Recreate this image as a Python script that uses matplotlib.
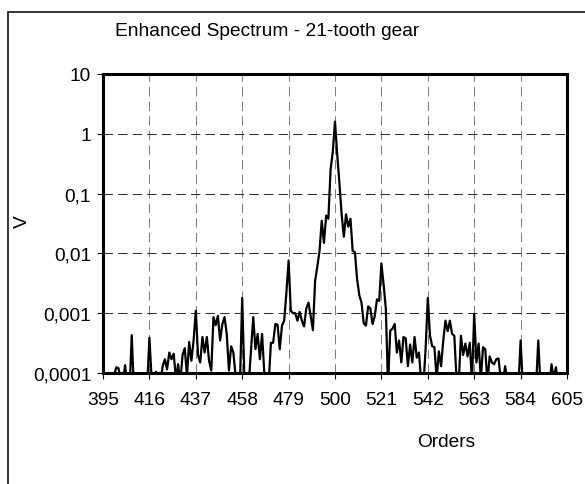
import matplotlib
matplotlib.use('Agg')
import matplotlib.pyplot as plt
from matplotlib.patches import Rectangle
from matplotlib.ticker import NullLocator

plt.rcParams['font.family'] = ['Liberation Sans', 'DejaVu Sans']

# enhanced spectrum amplitude, one value per order from 395 to 605
orders = list(range(395, 606))
amplitude = [
    7e-5, 6e-5, 5e-5, 6e-5, 7e-5, 9e-5, 1.25e-4, 1.2e-4, 8e-5, 7e-5,            # 395-404
    1.35e-4, 6e-5, 5e-5, 4.3e-4, 5e-5, 6e-5, 5e-5, 7e-5, 6e-5, 5e-5,            # 405-414
    6e-5, 3.9e-4, 8e-5, 9e-5, 1.05e-4, 6e-5, 7e-5, 1.3e-4, 1.7e-4, 1.15e-4,     # 415-424
    2.2e-4, 1.7e-4, 2.1e-4, 8e-5, 1.4e-4, 7e-5, 2.0e-4, 2.6e-4, 9e-5, 3.3e-4,   # 425-434
    1.6e-4, 3.5e-4, 1.1e-3, 2.0e-4, 1.5e-4, 4.0e-4, 2.2e-4, 4.0e-4, 1.6e-4, 1.1e-4,  # 435-444
    8.6e-4, 6.3e-4, 9.0e-4, 3.5e-4, 6.5e-4, 8.6e-4, 4.5e-4, 1.1e-4, 2.8e-4, 2.2e-4,  # 445-454
    9e-5, 8e-5, 7e-5, 1.8e-3, 8e-5, 6e-5, 7e-5, 2.5e-4, 8.6e-4, 2.5e-4,         # 455-464
    4.5e-4, 1.7e-4, 4.5e-4, 1e-4, 6e-5, 7e-5, 3.2e-4, 3.2e-4, 6.6e-4, 6.4e-4,   # 465-474
    2.5e-4, 6.2e-4, 7.5e-4, 2.2e-3, 7.6e-3, 1.1e-3, 1.0e-3, 1.0e-3, 7.5e-4, 1.05e-3,  # 475-484
    7.5e-4, 6e-4, 1.2e-3, 1.5e-3, 9e-4, 5.2e-4, 3.5e-3, 6e-3, 1.1e-2, 3.5e-2,   # 485-494
    1.5e-2, 4.3e-2, 3.8e-2, 2.5e-1, 5.0e-1, 1.6, 4.5e-1, 1.5e-1, 4.5e-2, 1.9e-2,  # 495-504
    4.5e-2, 2.8e-2, 3.8e-2, 1.1e-2, 1.05e-2, 3.7e-3, 2.0e-3, 1.5e-3, 6.8e-4, 6.2e-4,  # 505-514
    1.3e-3, 1.2e-3, 6.6e-4, 9e-4, 1.7e-3, 1.6e-3, 6.8e-3, 3.0e-3, 1.2e-3, 6e-5,  # 515-524
    5.1e-4, 5.5e-4, 6.6e-4, 2.2e-4, 3.5e-4, 1.5e-4, 4e-4, 3.8e-4, 1.3e-4, 3e-4,  # 525-534
    1.5e-4, 4e-4, 1.8e-4, 2.2e-4, 7e-5, 6e-5, 2.5e-4, 1.8e-3, 4.2e-4, 2.8e-4,   # 535-544
    2.7e-4, 8e-5, 2.3e-4, 1.3e-4, 3.5e-4, 7.5e-4, 5e-4, 7.5e-4, 4.5e-4, 4.2e-4,  # 545-554
    8e-5, 7e-5, 4.2e-4, 2e-4, 3.1e-4, 1.9e-4, 3.2e-4, 7e-5, 9.7e-4, 1.5e-4,     # 555-564
    3.1e-4, 8e-5, 2.7e-4, 2.5e-4, 7e-5, 1.9e-4, 1.5e-4, 1.4e-4, 1.7e-4, 1.75e-4,  # 565-574
    8e-5, 7e-5, 1.3e-4, 7e-5, 6e-5, 6e-5, 6e-5, 6e-5, 6e-5, 3.5e-4,            # 575-584
    6e-5, 6e-5, 6e-5, 6e-5, 6e-5, 6e-5, 6e-5, 3.5e-4, 6e-5, 6e-5,              # 585-594
    6e-5, 6e-5, 6e-5, 1.4e-4, 8e-5, 1.25e-4, 6e-5, 6e-5, 6e-5, 6e-5,           # 595-604
    6e-5,                                                                       # 605
]

x_ticks = [395, 416, 437, 458, 479, 500, 521, 542, 563, 584, 605]
y_ticks = [1e-4, 1e-3, 1e-2, 1e-1, 1, 10]
y_labels = ['0,0001', '0,001', '0,01', '0,1', '1', '10']

W, H = 585, 485
FS = 13.8


def draw_spectrum():
    fig = plt.figure(num=1, figsize=(W / 100, H / 100), dpi=100)

    # frame around the whole chart area (runs off the right and bottom edges)
    frame = Rectangle((8 / W, -0.1), 1.2, (H - 13) / H + 0.1,
                      transform=fig.transFigure, fill=False,
                      edgecolor='black', linewidth=1.1)
    fig.add_artist(frame)

    ax = fig.add_axes([103 / W, 1 - 374 / H, 464 / W, 299 / H])
    ax.plot(orders, amplitude, color='black', linewidth=1.6, zorder=3)

    ax.set_yscale('log')
    ax.set_xlim(395, 605)
    ax.set_ylim(1e-4, 10)
    ax.set_xticks(x_ticks)
    ax.set_xticklabels([str(t) for t in x_ticks])
    ax.set_yticks(y_ticks)
    ax.set_yticklabels(y_labels)
    ax.yaxis.set_minor_locator(NullLocator())

    ax.tick_params(axis='both', direction='out', length=4.5, width=0.8,
                   labelsize=FS, colors='black')
    ax.tick_params(axis='x', pad=8.5)
    ax.tick_params(axis='y', pad=4)

    # dashed grid: grey verticals, dark horizontals
    ax.xaxis.grid(True, color='#808080', linestyle=(0, (9, 5)), linewidth=0.75)
    ax.yaxis.grid(True, color='#303030', linestyle=(0, (9, 5)), linewidth=0.75)
    ax.set_axisbelow(True)

    for s in ax.spines.values():
        s.set_linewidth(2.2)
        s.set_zorder(4)

    fig.text(267 / W, 1 - 32 / H, 'Enhanced Spectrum - 21-tooth gear',
             ha='center', va='center', fontsize=FS)
    fig.text(22 / W, 1 - 222 / H, 'V', rotation=90,
             ha='center', va='center', fontsize=FS)
    fig.text(446 / W, 1 - 443 / H, 'Orders',
             ha='center', va='center', fontsize=FS)

    fig.savefig('out.png', dpi=100)
    plt.close(fig)


if __name__ == "__main__":
    draw_spectrum()
